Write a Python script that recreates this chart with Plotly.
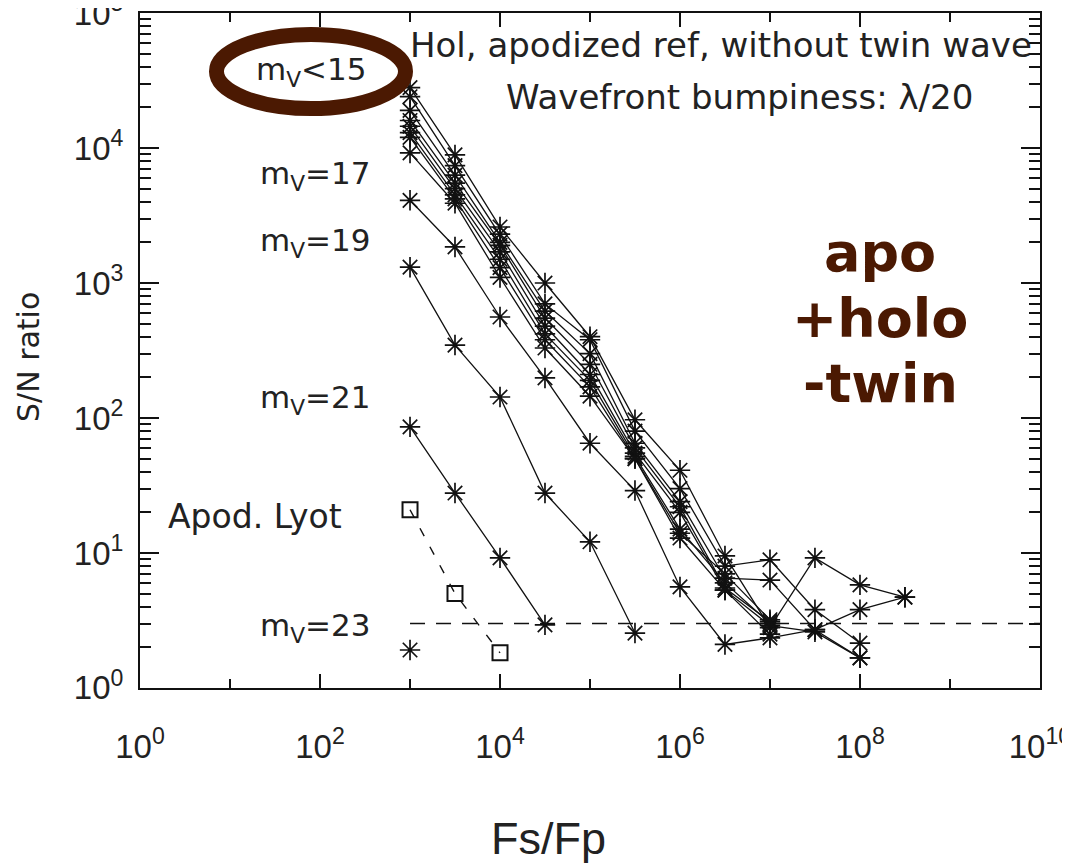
import plotly.graph_objects as go

# ---------------- data ----------------
fs_fp = [1e3, 3.16e3, 1e4, 3.16e4, 1e5, 3.16e5, 1e6, 3.16e6, 1e7, 3.16e7, 1e8, 3.16e8]

# m_V < 15 bundle (several realisations)
bright_1 = [28000, 8900, 2600, 1000, 400, 97, 41, 9.5, 2.8, 9.2, 5.8, 4.7]
bright_2 = [24000, 7400, 2300, 700, 380, 80, 30, 8.0, 8.9, 3.8, 2.15]
bright_3 = [19000, 6300, 2000, 620, 300, 65, 24, 6.5, 6.3, 2.7, 1.67]
bright_4 = [16000, 5500, 1900, 550, 250, 60, 22, 5.5, 3.1]
bright_5 = [14500, 5000, 1700, 480, 210, 55, 20, 5.3, 2.9, 2.6, 1.67]
bright_6 = [13000, 4500, 1500, 420, 190, 52, 15, 6.0, 3.0]
bright_7 = [12000, 4200, 1300, 380, 170, 50, 14, 7.0, 3.2]
bright_8 = [9200, 3900, 1100, 330, 145, 50, 12.9, 5.3, 2.5]

mv17 = [4100, 1850, 560, 198, 65, 29, 5.6, 2.1, 2.35, 2.7, 3.8, 4.7]
mv19 = [1310, 347, 143, 27.8, 12.1, 2.55]
mv21 = [86, 27.8, 9.2, 2.93]
mv23 = [1.91]

lyot_x = [1e3, 3.16e3, 1e4]
lyot_y = [20.9, 5.0, 1.82]

threshold_x = [1e3, 1e10]
threshold_y = [3, 3]

x_major = [1, 1e2, 1e4, 1e6, 1e8, 1e10]
x_major_text = ["10<sup>0</sup>", "10<sup>2</sup>", "10<sup>4</sup>",
                "10<sup>6</sup>", "10<sup>8</sup>", "10<sup>10</sup>"]
x_minor = [10, 1e3, 1e5, 1e7, 1e9]
y_major = [1, 10, 100, 1e3, 1e4, 1e5]
y_major_text = ["10<sup>0</sup>", "10<sup>1</sup>", "10<sup>2</sup>",
                "10<sup>3</sup>", "10<sup>4</sup>", "10<sup>5</sup>"]

# ---------------- figure ----------------
W, H = 1070, 864
OFF = 8                      # page body offset of the plot div
L, R, T, B = 140, 1040, 13, 688   # plot area in page pixels
INK = "#111111"
BROWN = "#4b1902"

fig = go.Figure()

star_series = [bright_1, bright_2, bright_3, bright_4, bright_5, bright_6,
               bright_7, bright_8, mv17, mv19, mv21, mv23]
for ys in star_series:
    fig.add_trace(go.Scatter(
        x=fs_fp[:len(ys)], y=ys, mode="lines+markers",
        line=dict(color=INK, width=1.3),
        marker=dict(symbol="asterisk-open", size=17,
                    line=dict(color=INK, width=1.7)),
        showlegend=False, hoverinfo="x+y"))

fig.add_trace(go.Scatter(
    x=lyot_x, y=lyot_y, mode="lines+markers",
    line=dict(color=INK, width=1.4, dash="9px,12px"),
    marker=dict(symbol="square-open", size=15, line=dict(color=INK, width=2)),
    showlegend=False))

fig.add_trace(go.Scatter(
    x=threshold_x, y=threshold_y, mode="lines",
    line=dict(color=INK, width=1.6, dash="15px,11px"),
    showlegend=False, hoverinfo="skip"))

# minor y ticks (2..9 per decade)
y_minor = [m * 10 ** k for k in range(0, 5) for m in range(2, 10)]

tick_font = dict(family="Liberation Sans", size=33, color="#222222")

fig.update_xaxes(
    type="log", range=[-0.0005, 10.0005], showgrid=False, zeroline=False,
    showline=True, linecolor=INK, linewidth=2, mirror="allticks",
    ticks="inside", ticklen=14, tickwidth=1.6, tickcolor=INK,
    tickvals=x_major, ticktext=x_major_text, tickfont=tick_font,
    ticklabelstandoff=28, ticklabeloverflow="allow",
    minor=dict(tickvals=x_minor, ticks="inside", ticklen=9,
               tickwidth=1.6, tickcolor=INK, showgrid=False),
    automargin=False)

fig.update_yaxes(
    type="log", range=[-0.0005, 5.0005], showgrid=False, zeroline=False,
    showline=True, linecolor=INK, linewidth=2, mirror="allticks",
    ticks="inside", ticklen=19, tickwidth=1.6, tickcolor=INK,
    tickvals=y_major, ticktext=y_major_text, tickfont=tick_font,
    ticklabelstandoff=8, ticklabeloverflow="allow",
    minor=dict(tickvals=y_minor, ticks="inside", ticklen=11,
               tickwidth=1.6, tickcolor=INK, showgrid=False),
    automargin=False)


def px(xp):
    return (xp - L) / (R - L)


def py(yp):
    return (B - yp) / (B - T)


label_font = dict(family="DejaVu Sans", size=31, color="#222222")
labels = [
    ("m<sub>V</sub>&lt;15", 311, 72, 31),
    ("m<sub>V</sub>=17", 315, 175, 31),
    ("m<sub>V</sub>=19", 315, 242, 31),
    ("m<sub>V</sub>=21", 315, 400, 31),
    ("Apod. Lyot", 255, 517, 33),
    ("m<sub>V</sub>=23", 315, 627, 31),
]
for txt, xp, yp, sz in labels:
    fig.add_annotation(text=txt, x=px(xp), y=py(yp), xref="paper", yref="paper",
                       showarrow=False,
                       font=dict(family="DejaVu Sans", size=sz, color="#222222"),
                       xanchor="center", yanchor="middle")

title_font = dict(family="DejaVu Sans", size=34, color="#222222")
fig.add_annotation(text="Hol, apodized ref, without twin wave",
                   x=px(408), y=py(45), xref="paper", yref="paper",
                   showarrow=False, font=title_font,
                   xanchor="left", yanchor="middle")
fig.add_annotation(text="Wavefront bumpiness: λ/20",
                   x=px(739), y=py(97), xref="paper", yref="paper",
                   showarrow=False, font=title_font,
                   xanchor="center", yanchor="middle")

big_font = dict(family="DejaVu Sans", size=54, color=BROWN, weight="bold")
for txt, yp in [("apo", 253), ("+holo", 318), ("-twin", 383)]:
    fig.add_annotation(text=f"<b>{txt}</b>", x=px(880), y=py(yp),
                       xref="paper", yref="paper", showarrow=False,
                       font=big_font, xanchor="center", yanchor="middle")

fig.add_annotation(text="S/N ratio", textangle=-90,
                   x=(28 - L) / (R - L), y=py(357), xref="paper", yref="paper",
                   showarrow=False,
                   font=dict(family="DejaVu Sans", size=30, color="#222222"),
                   xanchor="center", yanchor="middle")
fig.add_annotation(text="Fs/Fp", x=px(548), y=py(838), xref="paper", yref="paper",
                   showarrow=False,
                   font=dict(family="Liberation Sans", size=45, color="#222222"),
                   xanchor="center", yanchor="middle")

# highlight ellipse around the m_V<15 label
fig.add_shape(type="circle", xref="paper", yref="paper",
              x0=px(216.5), x1=px(405.5), y0=py(108.5), y1=py(34.5),
              line=dict(color=BROWN, width=15), fillcolor="rgba(0,0,0,0)")

fig.update_layout(
    width=W, height=H,
    margin=dict(l=L - OFF, r=W - R + OFF, t=T - OFF, b=H - B + OFF,
                autoexpand=False),
    plot_bgcolor="white", paper_bgcolor="white",
    showlegend=False)

fig.write_html("out.html")
